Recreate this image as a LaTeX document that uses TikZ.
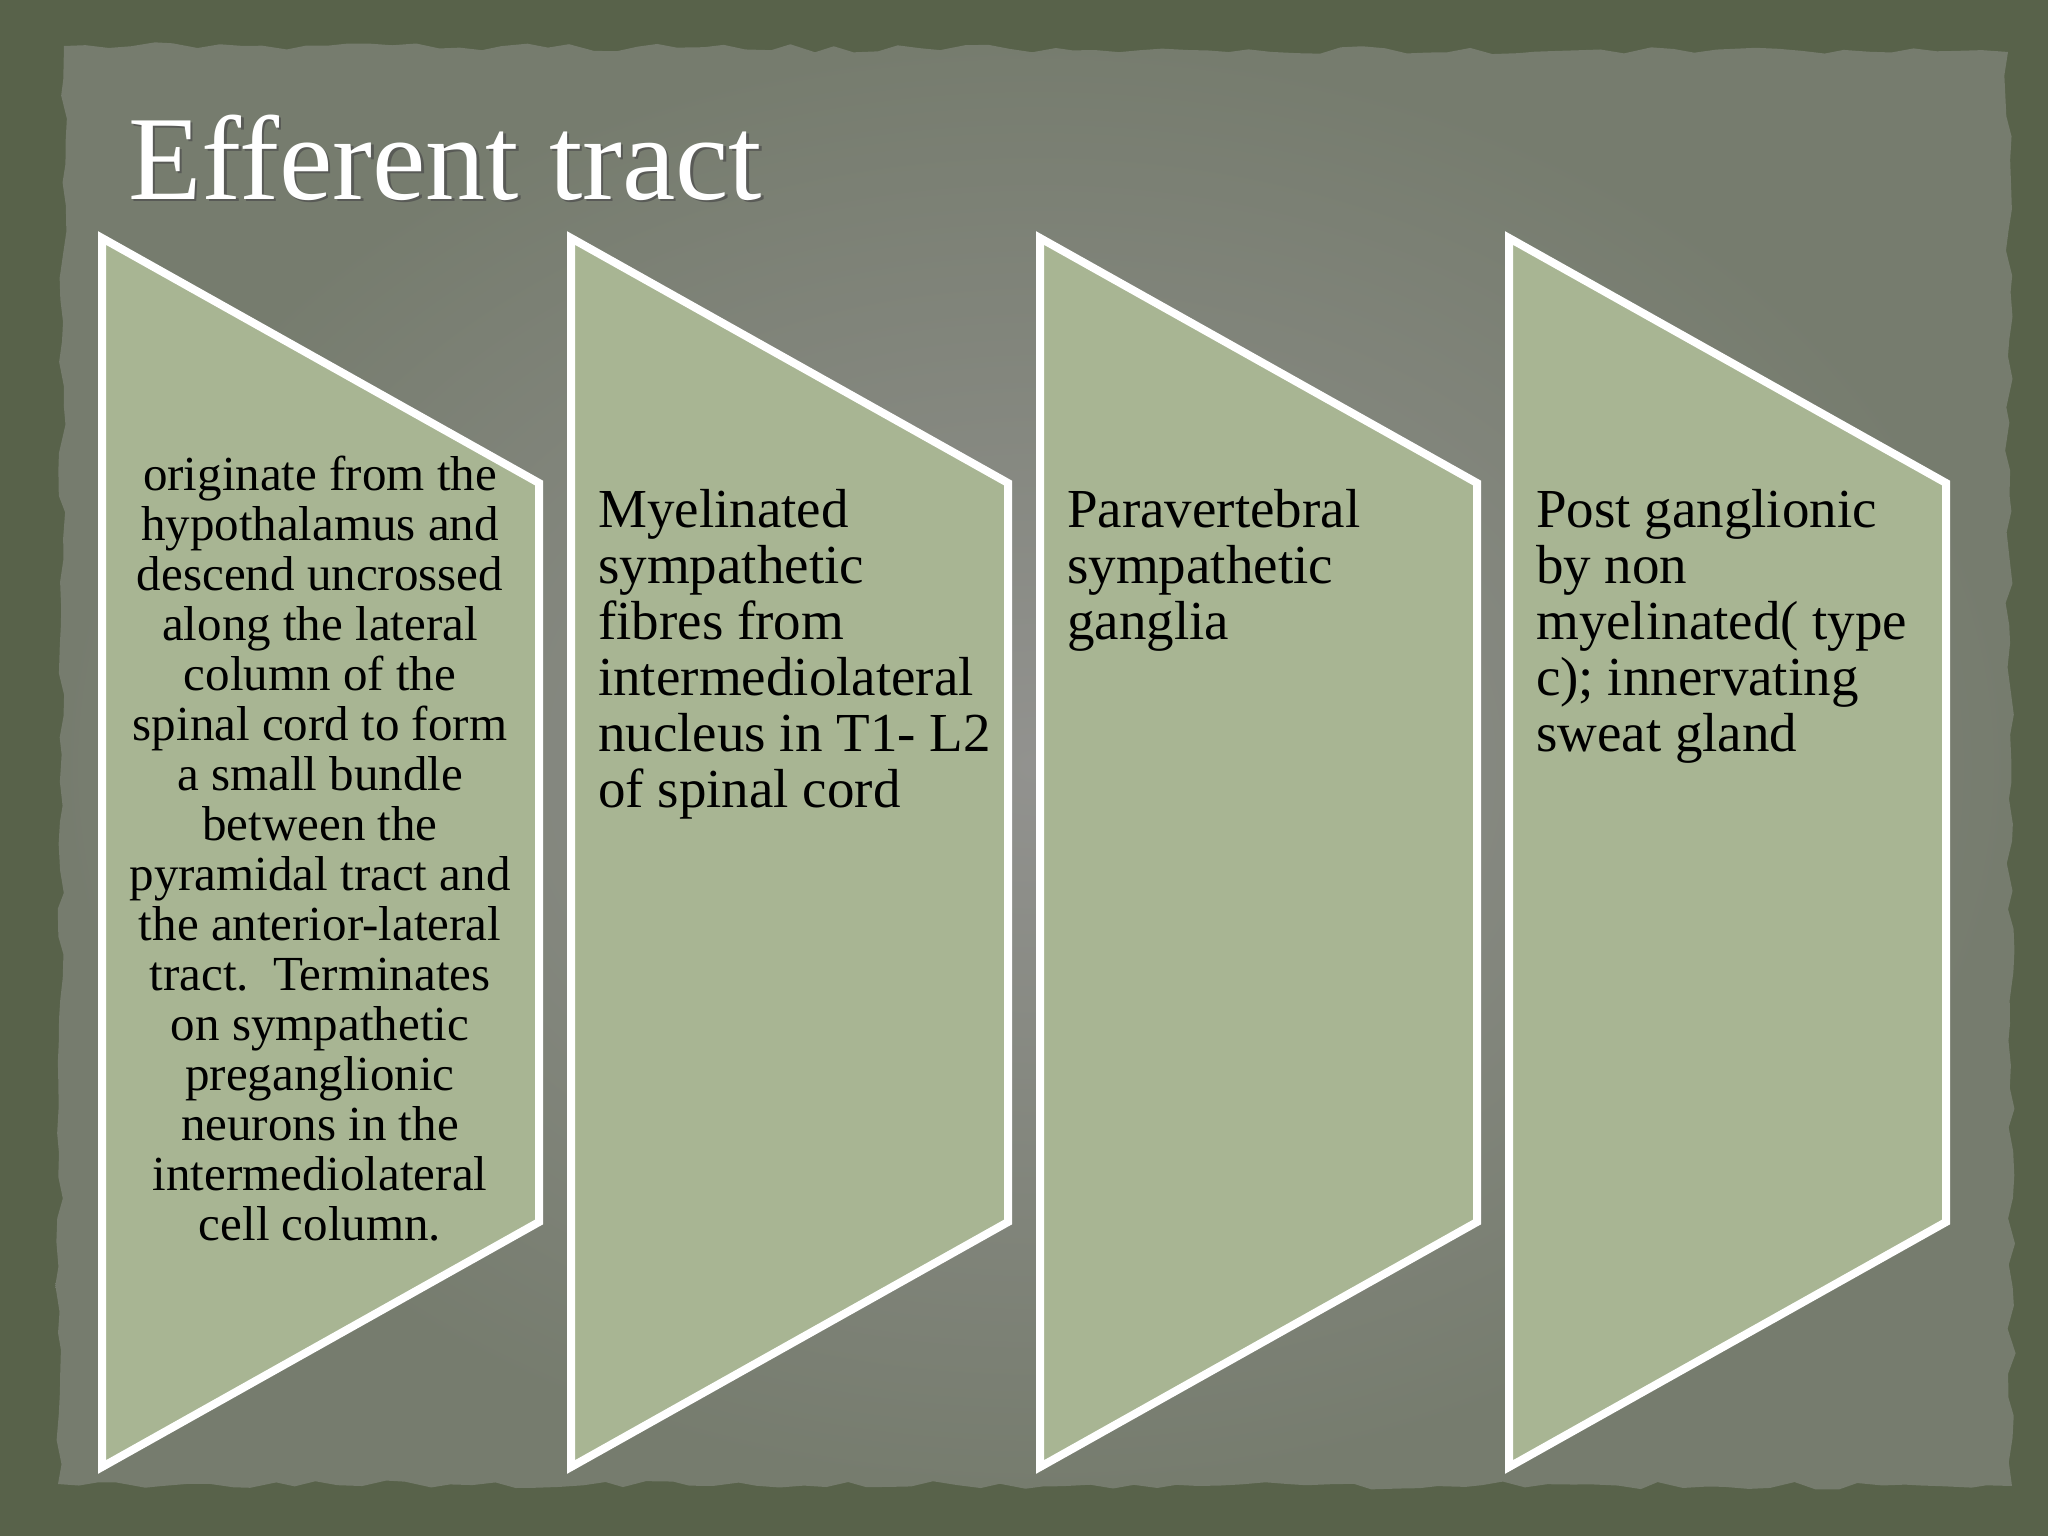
\documentclass[tikz,border=0pt]{standalone}
\usepackage{fontspec}
\setmainfont{Liberation Serif}
\usetikzlibrary{decorations.pathmorphing}
\definecolor{outerbg}{RGB}{88,98,74}
\definecolor{paperedge}{RGB}{118,124,110}
\definecolor{papercenter}{RGB}{146,146,143}
\definecolor{boxfill}{RGB}{168,181,147}
\tikzset{
  stagebox/.style={fill=boxfill, draw=white, line width=8pt, line join=miter},
  smalltext/.style={anchor=base, inner sep=0pt, text=black, font=\fontsize{49}{50}\selectfont},
  bigtext/.style={anchor=base west, inner sep=0pt, text=black, font=\fontsize{55}{56}\selectfont},
  titletext/.style={anchor=base west, inner sep=0pt, font=\fontsize{120}{130}\selectfont}
}
\begin{document}
\begin{tikzpicture}[x=1pt,y=-1pt]
\useasboundingbox (0,0) rectangle (2048,1536);
% outer dark background
\fill[outerbg] (0,0) rectangle (2048,1536);
% torn paper
\pgfmathsetseed{7}
\shade[inner color=papercenter, outer color=paperedge,
  decorate, decoration={random steps, segment length=22pt, amplitude=4pt}]
  (64,46) -- (2008,52) -- (2012,1486) -- (58,1484) -- cycle;
% title
\node[titletext, text=black!70, opacity=0.7] (titleshadow) at (130.5,201.5) {Efferent tract};
\node[titletext, text=white] (title) at (128,199) {Efferent tract};
% boxes
\foreach \L [count=\k] in {102,571,1040,1509} {
  \draw[stagebox] (\L,238) -- (\L+437,483) -- (\L+437,1222) -- (\L,1467) -- cycle;
}
% box 1 text
\foreach \t [count=\i] in {originate from the, hypothalamus and, descend uncrossed,
  along the lateral, column of the, spinal cord to form, a small bundle, between the,
  pyramidal tract and, the anterior-lateral, tract.~~Terminates, on sympathetic,
  preganglionic, neurons in the, intermediolateral, cell column.} {
  \node[smalltext] (a\i) at (320,{490+50*(\i-1)}) {\t};
}
% box 2 text
\foreach \t [count=\i] in {Myelinated, sympathetic, fibres from, intermediolateral,
  nucleus in T1- L2, of spinal cord} {
  \node[bigtext] (b\i) at (598,{527+56*(\i-1)}) {\t};
}
% box 3 text
\foreach \t [count=\i] in {Paravertebral, sympathetic, ganglia} {
  \node[bigtext] (c\i) at (1067,{527+56*(\i-1)}) {\t};
}
% box 4 text
\foreach \t [count=\i] in {Post ganglionic, by non, myelinated( type,
  c); innervating, sweat gland} {
  \node[bigtext] (d\i) at (1536,{527+56*(\i-1)}) {\t};
}
\end{tikzpicture}
\end{document}
